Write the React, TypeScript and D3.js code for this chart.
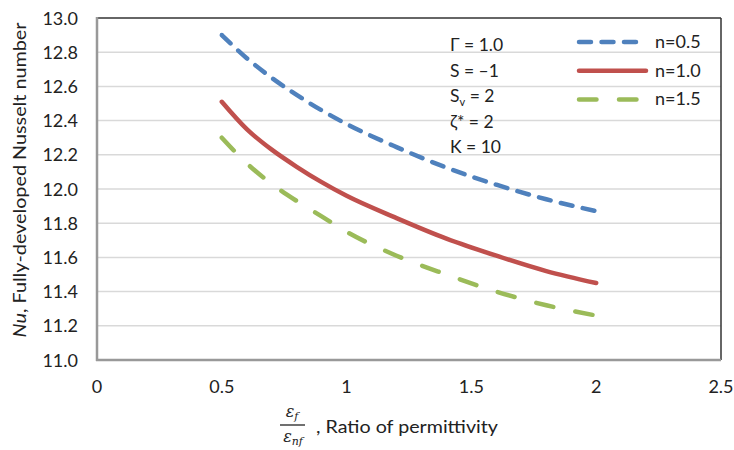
import React from "react";
import * as d3 from "d3";

const xValues = [0.5, 0.6, 0.7, 0.8, 0.9, 1.0, 1.2, 1.4, 1.6, 1.8, 2.0];
const seriesN05 = [12.9, 12.765, 12.65, 12.55, 12.46, 12.38, 12.245, 12.125, 12.025, 11.94, 11.87];
const seriesN10 = [12.51, 12.35, 12.23, 12.13, 12.04, 11.96, 11.83, 11.71, 11.61, 11.52, 11.45];
const seriesN15 = [12.3, 12.15, 12.03, 11.93, 11.84, 11.75, 11.61, 11.5, 11.4, 11.32, 11.26];
const seriesNames = ["n=0.5", "n=1.0", "n=1.5"];
const xTicks = [0, 0.5, 1, 1.5, 2, 2.5];
const yTicks = [11.0, 11.2, 11.4, 11.6, 11.8, 12.0, 12.2, 12.4, 12.6, 12.8, 13.0];
const annotations = ["Γ = 1.0", "S = –1", "Sv = 2", "ζ* = 2", "K = 10"];

const W = 734;
const H = 450;
const L = 97, R = 721, T = 18, B = 360;
const FONT = "Lato, 'Open Sans', sans-serif";

const colors = ["#4F81BD", "#C0504D", "#9BBB59"];
const dashes = ["12 10.5", "none", "17.5 22.5"];

export default function App() {
  const x = d3.scaleLinear().domain([0, 2.5]).range([L, R]);
  const y = d3.scaleLinear().domain([11, 13]).range([B, T]);
  const line = d3
    .line<number>()
    .x((_, i) => x(xValues[i]))
    .y((d) => y(d))
    .curve(d3.curveMonotoneX);
  const all = [seriesN05, seriesN10, seriesN15];

  return (
    <svg width={W} height={H} style={{ position: "absolute", left: 0, top: 0, background: "#fff" }}>
      <rect x={0} y={0} width={W} height={H} fill="#fff" />
      {yTicks.slice(1, -1).map((t) => (
        <line key={t} x1={L} x2={R} y1={y(t)} y2={y(t)} stroke="#d9d9d9" strokeWidth={1.5} />
      ))}
      <line x1={L} x2={R} y1={T} y2={T} stroke="#333" strokeWidth={1.5} />
      <line x1={R} x2={R} y1={T} y2={B} stroke="#333" strokeWidth={1.5} />
      <line x1={L} x2={L} y1={T - 1} y2={B + 1} stroke="#999" strokeWidth={2.5} />
      <line x1={L - 1} x2={R} y1={B} y2={B} stroke="#999" strokeWidth={2.5} />

      {yTicks.map((t) => (
        <text key={t} x={78} y={y(t) + 6.5} textAnchor="end" fontFamily={FONT} fontSize={18} fill="#222">
          {t.toFixed(1)}
        </text>
      ))}
      {xTicks.map((t) => (
        <text key={t} x={x(t)} y={393} textAnchor="middle" fontFamily={FONT} fontSize={18} fill="#222">
          {String(t)}
        </text>
      ))}

      {all.map((s, i) => (
        <path
          key={i}
          d={line(s) || ""}
          fill="none"
          stroke={colors[i]}
          strokeWidth={4.5}
          strokeLinecap="round"
          strokeDasharray={dashes[i]}
        />
      ))}

      {/* legend */}
      {seriesNames.map((n, i) => (
        <g key={n}>
          <line
            x1={579}
            x2={i === 1 ? 646 : 638}
            y1={42 + i * 28.7}
            y2={42 + i * 28.7}
            stroke={colors[i]}
            strokeWidth={4.5}
            strokeLinecap="round"
            strokeDasharray={dashes[i]}
          />
          <text x={655} y={48 + i * 28.7} fontFamily={FONT} fontSize={18} fill="#222">
            {n}
          </text>
        </g>
      ))}

      {/* annotations */}
      {annotations.map((a, i) => (
        <text key={a} x={450} y={51 + i * 25.5} fontFamily={FONT} fontSize={17.5} fill="#222">
          {a === "Sv = 2" ? (
            <>
              S<tspan fontSize={11} dy={4}>v</tspan>
              <tspan dy={-4}> = 2</tspan>
            </>
          ) : (
            a
          )}
        </text>
      ))}

      {/* y title */}
      <text
        transform={`translate(26, 180) rotate(-90)`}
        textAnchor="middle"
        fontFamily={FONT}
        fontSize={18}
        fill="#222"
        textLength={315}
        lengthAdjust="spacingAndGlyphs"
      >
        <tspan fontStyle="italic">Nu</tspan>, Fully-developed Nusselt number
      </text>

      {/* x title */}
      <text x={292} y={417} textAnchor="middle" fontFamily="'DejaVu Serif', serif" fontStyle="italic" fontSize={16} fill="#222">
        ε<tspan fontSize={11} dy={3}>f</tspan>
      </text>
      <line x1={280} x2={305} y1={425} y2={425} stroke="#222" strokeWidth={1.3} />
      <text x={293} y={442} textAnchor="middle" fontFamily="'DejaVu Serif', serif" fontStyle="italic" fontSize={16} fill="#222">
        ε<tspan fontSize={11} dy={3}>nf</tspan>
      </text>
      <text x={316} y={433} fontFamily={FONT} fontSize={18} fill="#222" textLength={182} lengthAdjust="spacingAndGlyphs">
        , Ratio of permittivity
      </text>
    </svg>
  );
}
